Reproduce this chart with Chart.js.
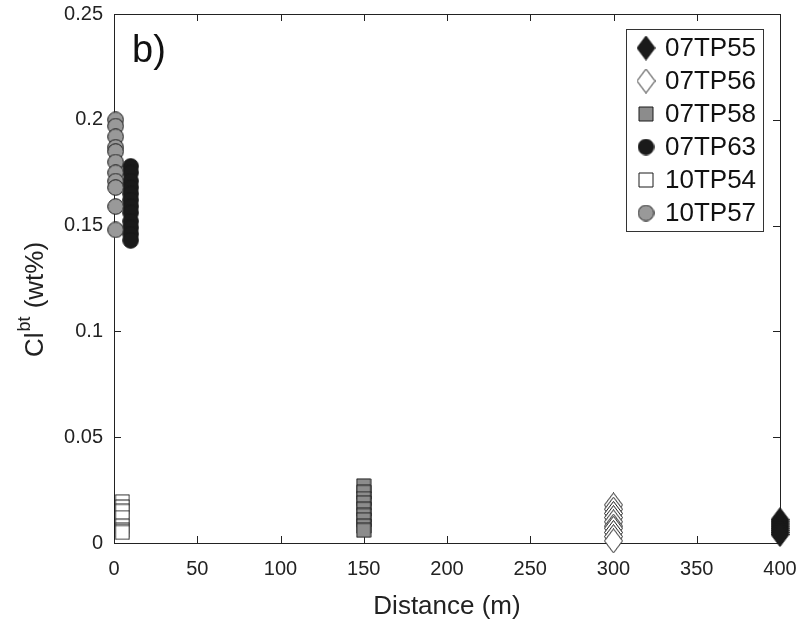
<!DOCTYPE html>
<html>
<head>
<meta charset="utf-8">
<script src="https://cdn.jsdelivr.net/npm/chart.js@4.4.1/dist/chart.umd.min.js"></script>
<style>
  html, body { margin: 0; padding: 0; background: #fff; }
</style>
</head>
<body>
<canvas id="myChart" width="801" height="635"></canvas>
<script>
// ---------------------------------------------------------------- data
const sampleNames = ['07TP55', '07TP56', '07TP58', '07TP63', '10TP54', '10TP57'];
const distances = [400, 300, 150, 10, 5, 1];

const cl07TP55 = [0.011, 0.010, 0.009, 0.008, 0.007, 0.006, 0.005, 0.004];
const cl07TP56 = [0.018, 0.016, 0.014, 0.012, 0.010, 0.008, 0.007, 0.005, 0.003, 0.001];
const cl07TP58 = [0.027, 0.024, 0.021, 0.019, 0.016, 0.013, 0.011, 0.008, 0.006];
const cl07TP63 = [0.178, 0.175, 0.171, 0.168, 0.165, 0.162, 0.159, 0.156, 0.152, 0.149, 0.146, 0.143];
const cl10TP54 = [0.0195, 0.017, 0.015, 0.012, 0.008, 0.006, 0.005];
const cl10TP57 = [0.200, 0.197, 0.192, 0.187, 0.185, 0.180, 0.175, 0.171, 0.168, 0.159, 0.148];

const xTicks = [0, 50, 100, 150, 200, 250, 300, 350, 400];
const yTicks = [0, 0.05, 0.1, 0.15, 0.2, 0.25];

const seriesValues = [cl07TP55, cl07TP56, cl07TP58, cl07TP63, cl10TP54, cl10TP57];

// ---------------------------------------------------------------- markers

const EDGE = '#1a1a1a';

function makeMarker(shape, fill) {
  var w, h;
  if (shape === 'diamond') { w = 19; h = 25; }
  else if (shape === 'square') { w = 16; h = 16; }
  else { w = 17; h = 17; }
  var c = document.createElement('canvas');
  c.width = w;
  c.height = h;
  var ctx = c.getContext('2d');
  ctx.fillStyle = fill;
  ctx.strokeStyle = EDGE;
  ctx.lineWidth = 1;
  ctx.beginPath();
  if (shape === 'diamond') {
    ctx.moveTo(w / 2, 0.5);
    ctx.lineTo(w - 0.5, h / 2);
    ctx.lineTo(w / 2, h - 0.5);
    ctx.lineTo(0.5, h / 2);
    ctx.closePath();
  } else if (shape === 'square') {
    ctx.rect(1, 1, w - 2, h - 2);
  } else {
    ctx.arc(w / 2, h / 2, w / 2 - 0.7, 0, Math.PI * 2);
  }
  ctx.fill();
  ctx.stroke();
  return c;
}

const markers = [
  makeMarker('diamond', '#1a1a1a'),
  makeMarker('diamond', '#ffffff'),
  makeMarker('square', '#8c8c8c'),
  makeMarker('circle', '#1a1a1a'),
  makeMarker('square', '#ffffff'),
  makeMarker('circle', '#999999')
];

const datasets = sampleNames.map(function (name, i) {
  return {
    label: name,
    data: seriesValues[i].map(function (v) { return { x: distances[i], y: v }; }),
    pointStyle: markers[i],
    pointRadius: 8,
    showLine: false,
    clip: false,
    order: sampleNames.length - i
  };
});

// ---------------------------------------------------------------- frame, ticks, titles, legend

const FONT = '"Liberation Sans", Arial, sans-serif';

const framePlugin = {
  id: 'frame',
  beforeDatasetsDraw: function (chart) {
    const ctx = chart.ctx;
    const a = chart.chartArea;
    const xs = chart.scales.x;
    const ys = chart.scales.y;
    const tl = 7;

    ctx.save();
    ctx.strokeStyle = '#222';
    ctx.lineWidth = 1;
    ctx.strokeRect(Math.round(a.left) + 0.5, Math.round(a.top) + 0.5,
      Math.round(a.right - a.left), Math.round(a.bottom - a.top));

    ctx.beginPath();
    xTicks.forEach(function (v) {
      const px = Math.round(xs.getPixelForValue(v)) + 0.5;
      ctx.moveTo(px, a.bottom);
      ctx.lineTo(px, a.bottom - tl);
      ctx.moveTo(px, a.top);
      ctx.lineTo(px, a.top + tl);
    });
    yTicks.forEach(function (v) {
      const py = Math.round(ys.getPixelForValue(v)) + 0.5;
      ctx.moveTo(a.left, py);
      ctx.lineTo(a.left + tl, py);
      ctx.moveTo(a.right, py);
      ctx.lineTo(a.right - tl, py);
    });
    ctx.stroke();
    ctx.restore();
  },
  afterDraw: function (chart) {
    const ctx = chart.ctx;
    const a = chart.chartArea;

    // y axis title with superscript
    ctx.save();
    ctx.fillStyle = '#222';
    ctx.translate(34, (a.top + a.bottom) / 2 + 22);
    ctx.rotate(-Math.PI / 2);
    const big = '26px ' + FONT;
    const small = '18px ' + FONT;
    ctx.font = big;
    const w1 = ctx.measureText('Cl').width;
    const w3 = ctx.measureText(' (wt%)').width;
    ctx.font = small;
    const w2 = ctx.measureText('bt').width;
    let x0 = -(w1 + w2 + w3) / 2;
    ctx.textBaseline = 'alphabetic';
    ctx.font = big;
    ctx.fillText('Cl', x0, 9);
    ctx.font = small;
    ctx.fillText('bt', x0 + w1 + 1, -4);
    ctx.font = big;
    ctx.fillText(' (wt%)', x0 + w1 + w2 + 2, 9);
    ctx.restore();

    // panel label
    ctx.save();
    ctx.fillStyle = '#111';
    ctx.font = '38px ' + FONT;
    ctx.textBaseline = 'alphabetic';
    ctx.fillText('b)', 132, 62);
    ctx.restore();

    // legend
    ctx.save();
    const lx = 626, ly = 29, lw = 137, lh = 202;
    ctx.fillStyle = '#fff';
    ctx.fillRect(lx, ly, lw, lh);
    ctx.strokeStyle = '#333';
    ctx.lineWidth = 1;
    ctx.strokeRect(lx + 0.5, ly + 0.5, lw, lh);
    ctx.font = '26px ' + FONT;
    ctx.textBaseline = 'middle';
    ctx.fillStyle = '#111';
    sampleNames.forEach(function (name, i) {
      const cy = 48 + i * 33;
      const m = markers[i];
      ctx.drawImage(m, 646 - m.width / 2, cy - m.height / 2);
      ctx.fillText(name, 665, cy + 1);
    });
    ctx.restore();
  }
};

// ---------------------------------------------------------------- chart

const config = {
  type: 'scatter',
  data: { datasets: datasets },
  plugins: [framePlugin],
  options: {
    responsive: false,
    animation: false,
    devicePixelRatio: 1,
    layout: {
      autoPadding: false,
      padding: { top: 14, right: 21, left: 0, bottom: 0 }
    },
    plugins: {
      legend: { display: false },
      tooltip: { enabled: false }
    },
    scales: {
      x: {
        type: 'linear',
        min: 0,
        max: 400,
        afterBuildTicks: function (scale) {
          scale.ticks = xTicks.map(function (v) { return { value: v }; });
        },
        afterFit: function (scale) {
          scale.height = 92;
          scale.paddingLeft = 0;
          scale.paddingRight = 0;
        },
        grid: { display: false, drawTicks: false },
        border: { display: false },
        ticks: {
          padding: 14,
          color: '#222',
          maxRotation: 0,
          font: { family: FONT, size: 20 }
        },
        title: {
          display: true,
          text: 'Distance (m)',
          color: '#222',
          padding: { top: 4, bottom: 13 },
          font: { family: FONT, size: 26 }
        }
      },
      y: {
        type: 'linear',
        min: 0,
        max: 0.25,
        afterBuildTicks: function (scale) {
          scale.ticks = yTicks.map(function (v) { return { value: v }; });
        },
        afterFit: function (scale) {
          scale.width = 114;
          scale.paddingTop = 0;
          scale.paddingBottom = 0;
        },
        grid: { display: false, drawTicks: false },
        border: { display: false },
        ticks: {
          padding: 11,
          color: '#222',
          callback: function (value) { return String(Number(value.toFixed(2))); },
          font: { family: FONT, size: 20 }
        }
      }
    }
  }
};

var canvas = document.getElementById('myChart').getContext('2d');
var myChart = new Chart(canvas, config);
</script>
</body>
</html>
